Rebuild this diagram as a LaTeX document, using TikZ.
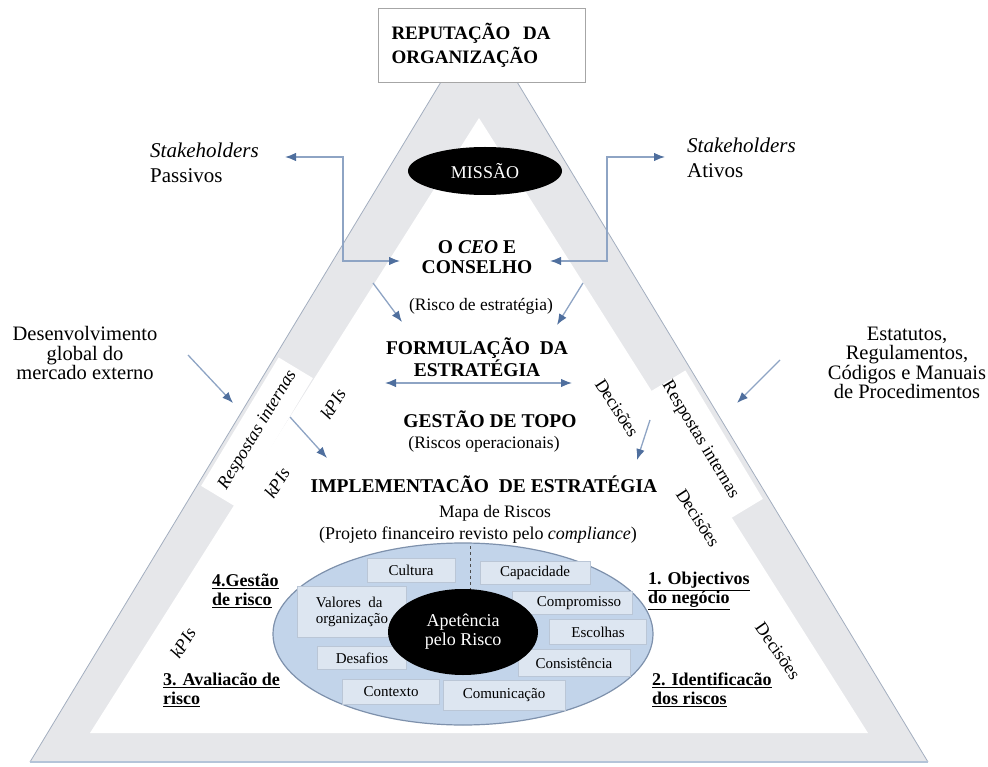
\documentclass[tikz,border=0pt]{standalone}
\usepackage{fontspec}
\setmainfont{Liberation Serif}
\usetikzlibrary{shapes.geometric,arrows.meta}

\definecolor{bandgray}{HTML}{E6E7EA}
\definecolor{edgegray}{HTML}{A3AEBF}
\definecolor{baseblue}{HTML}{B4C4D8}
\definecolor{linkblue}{HTML}{8EA4C4}
\definecolor{headblue}{HTML}{4F6F9E}
\definecolor{ovalblue}{HTML}{C2D4EA}
\definecolor{ovalline}{HTML}{7E91AC}
\definecolor{boxfill}{HTML}{DDE6F1}
\definecolor{boxline}{HTML}{BAC6D6}

\tikzstyle{repbox} = [rectangle, draw=gray!70, fill=white, minimum width=207, minimum height=74,
text width=180, align=left, font=\bfseries\fontsize{19}{24}\selectfont]
\tikzstyle{title} = [align=center, inner sep=0pt, font=\bfseries\fontsize{19.5}{20}\selectfont]
\tikzstyle{note} = [align=center, inner sep=0pt, font=\fontsize{17.5}{19}\selectfont]
\tikzstyle{outer} = [align=center, inner sep=0pt, font=\fontsize{20.5}{19.5}\selectfont]
\tikzstyle{holder} = [align=left, inner sep=0pt, anchor=west, font=\fontsize{21}{25}\selectfont]
\tikzstyle{slant} = [inner sep=0pt, font=\fontsize{18}{19}\selectfont]
\tikzstyle{phase} = [align=left, inner sep=0pt, anchor=west, font=\bfseries\fontsize{18}{19}\selectfont]
\tikzstyle{factor} = [rectangle, draw=boxline, fill=boxfill, inner sep=0pt, font=\fontsize{15}{16}\selectfont]
\tikzstyle{blob} = [ellipse, fill=black, text=white, inner sep=0pt]
\tikzstyle{patch} = [rectangle, fill=white, minimum width=150, minimum height=40]
\tikzstyle{line} = [draw=linkblue, line width=1.3pt, -{Latex[length=11pt,width=8.5pt,color=headblue]}]
\tikzstyle{dline} = [line, {Latex[length=11pt,width=8.5pt,color=headblue]}-{Latex[length=11pt,width=8.5pt,color=headblue]}]

\begin{document}
\begin{tikzpicture}[x=1pt, y=-1pt]
\useasboundingbox (0,0) rectangle (988,767);

% triangle band
\coordinate (oT) at (479,19);
\coordinate (oL) at (30,762);
\coordinate (oR) at (928,762);
\coordinate (iT) at (479,118);
\coordinate (iL) at (90,733);
\coordinate (iR) at (868,733);
\fill [bandgray] (oT) -- (oL) -- (oR) -- cycle;
\fill [white] (iT) -- (iL) -- (iR) -- cycle;
\node [patch, rotate=58.9] (patchL) at (257,432) {};
\node [patch, rotate=-58.9] (patchR) at (707,445) {};
\draw [edgegray, line width=0.8pt] (oL) -- (oT) -- (oR);
\draw [baseblue, line width=1.5pt] (oL) -- (oR);

% top of the pyramid
\node [repbox] (rep) at (481.5,45) {REPUTAÇÃO\ \ DA\\ORGANIZAÇÃO};
\node [blob, minimum width=154, minimum height=48, font=\fontsize{18}{20}\selectfont] (missao) at (485,171) {MISSÃO};
\node [holder] (passivos) at (150,163) {\textit{Stakeholders}\\Passivos};
\node [holder] (ativos) at (687,158) {\textit{Stakeholders}\\Ativos};

% levels
\node [title] (ceo) at (477,257) {O \textit{CEO} E\\CONSELHO};
\node [note] (riscoE) at (481,306) {(Risco de estratégia)};
\node [title] (formul) at (477,357) {FORMULAÇÃO\ \ DA\\ESTRATÉGIA};
\node [title] (gestao) at (490,419) {GESTÃO DE TOPO};
\node [note] (riscoO) at (484,444) {(Riscos operacionais)};
\node [title] (implem) at (484,484) {IMPLEMENTACÃO\ \ DE ESTRATÉGIA};
\node [note] (mapa) at (495,513) {Mapa de Riscos};
\node [note, font=\fontsize{18}{19}\selectfont] (projeto) at (478,535) {(Projeto financeiro revisto pelo \textit{compliance})};

% outside influences
\node [outer] (mercado) at (85,353) {Desenvolvimento\\global do\\mercado externo};
\node [outer] (estatutos) at (907,363) {Estatutos,\\Regulamentos,\\Códigos e Manuais\\de Procedimentos};

% labels along the sides
\node [slant, rotate=58.9] (respL) at (258,430) {\itshape Respostas internas};
\node [slant, rotate=-58.9] (respR) at (700,440) {Respostas internas};
\node [slant, rotate=58] (kpiA) at (333,404) {\itshape kPIs};
\node [slant, rotate=58] (kpiB) at (277,483) {\itshape kPIs};
\node [slant, rotate=58] (kpiC) at (183,643) {\itshape kPIs};
\node [slant, rotate=-57] (decA) at (617,408) {Decisões};
\node [slant, rotate=-57] (decB) at (698,518) {Decisões};
\node [slant, rotate=-55] (decC) at (778,651) {Decisões};

% risk map
\node [ellipse, draw=ovalline, line width=1.2pt, fill=ovalblue, minimum width=380, minimum height=182] (oval) at (463,634) {};
\draw [dashed, gray!60!black, line width=1pt] (470,546) -- (470,592);
\node [factor, minimum width=88, minimum height=24] (cultura) at (411,570) {Cultura};
\node [factor, minimum width=110, minimum height=23] (capac) at (535,573) {Capacidade};
\node [factor, minimum width=109, minimum height=51, align=left] (valores) at (352,612) {Valores\ \ da\\organização};
\node [factor, minimum width=120, minimum height=23] (compr) at (572,603) {\hspace*{14pt}Compromisso};
\node [factor, minimum width=97, minimum height=25] (escol) at (598,632) {Escolhas};
\node [factor, minimum width=89, minimum height=23] (desaf) at (362,658) {Desafios};
\node [factor, minimum width=112, minimum height=27] (consist) at (574,663) {Consistência};
\node [factor, minimum width=97, minimum height=25] (contexto) at (391,692) {Contexto};
\node [factor, minimum width=122, minimum height=30] (comunic) at (504,695) {Comunicação};
\node [blob, minimum width=150, minimum height=86, align=center, font=\fontsize{18}{19}\selectfont] (apet) at (463,632) {Apetência\\pelo Risco};

% risk cycle
\node [phase] (gestaoR) at (212,591) {\underline{4.Gestão}\\\underline{de risco}};
\node [phase] (avalia) at (163,690) {\underline{3. Avaliacão de}\\\underline{risco}};
\node [phase] (objec) at (648,591) {\underline{1. Objectivos}\\\underline{do negócio}};
\node [phase] (ident) at (652,690) {\underline{2. Identificacão}\\\underline{dos riscos}};

% connectors
\coordinate (pasTip) at (285,157);
\coordinate (ceoL) at (400,261);
\coordinate (atTip) at (665,157);
\coordinate (ceoR) at (550,261);
\path [dline] (pasTip) -- ++(58,0) |- (ceoL);
\path [dline] (atTip) -- ++(-58,0) |- (ceoR);

\coordinate (ceoSL) at (373,283);
\coordinate (formL) at (402,322);
\coordinate (ceoSR) at (583,283);
\coordinate (formR) at (557,325);
\path [line] (ceoSL) -- (formL);
\path [line] (ceoSR) -- (formR);

\coordinate (topL) at (385,383);
\coordinate (topR) at (572,383);
\path [dline] (topL) -- (topR);

\coordinate (kpiIn) at (290,417);
\coordinate (implL) at (327,458);
\coordinate (decIn) at (650,420);
\coordinate (implR) at (637,460);
\path [line] (kpiIn) -- (implL);
\path [line] (decIn) -- (implR);

\coordinate (extL) at (188,355);
\coordinate (edgeL) at (233,403);
\coordinate (extR) at (780,360);
\coordinate (edgeR) at (737,403);
\path [line] (extL) -- (edgeL);
\path [line] (extR) -- (edgeR);
\end{tikzpicture}
\end{document}
